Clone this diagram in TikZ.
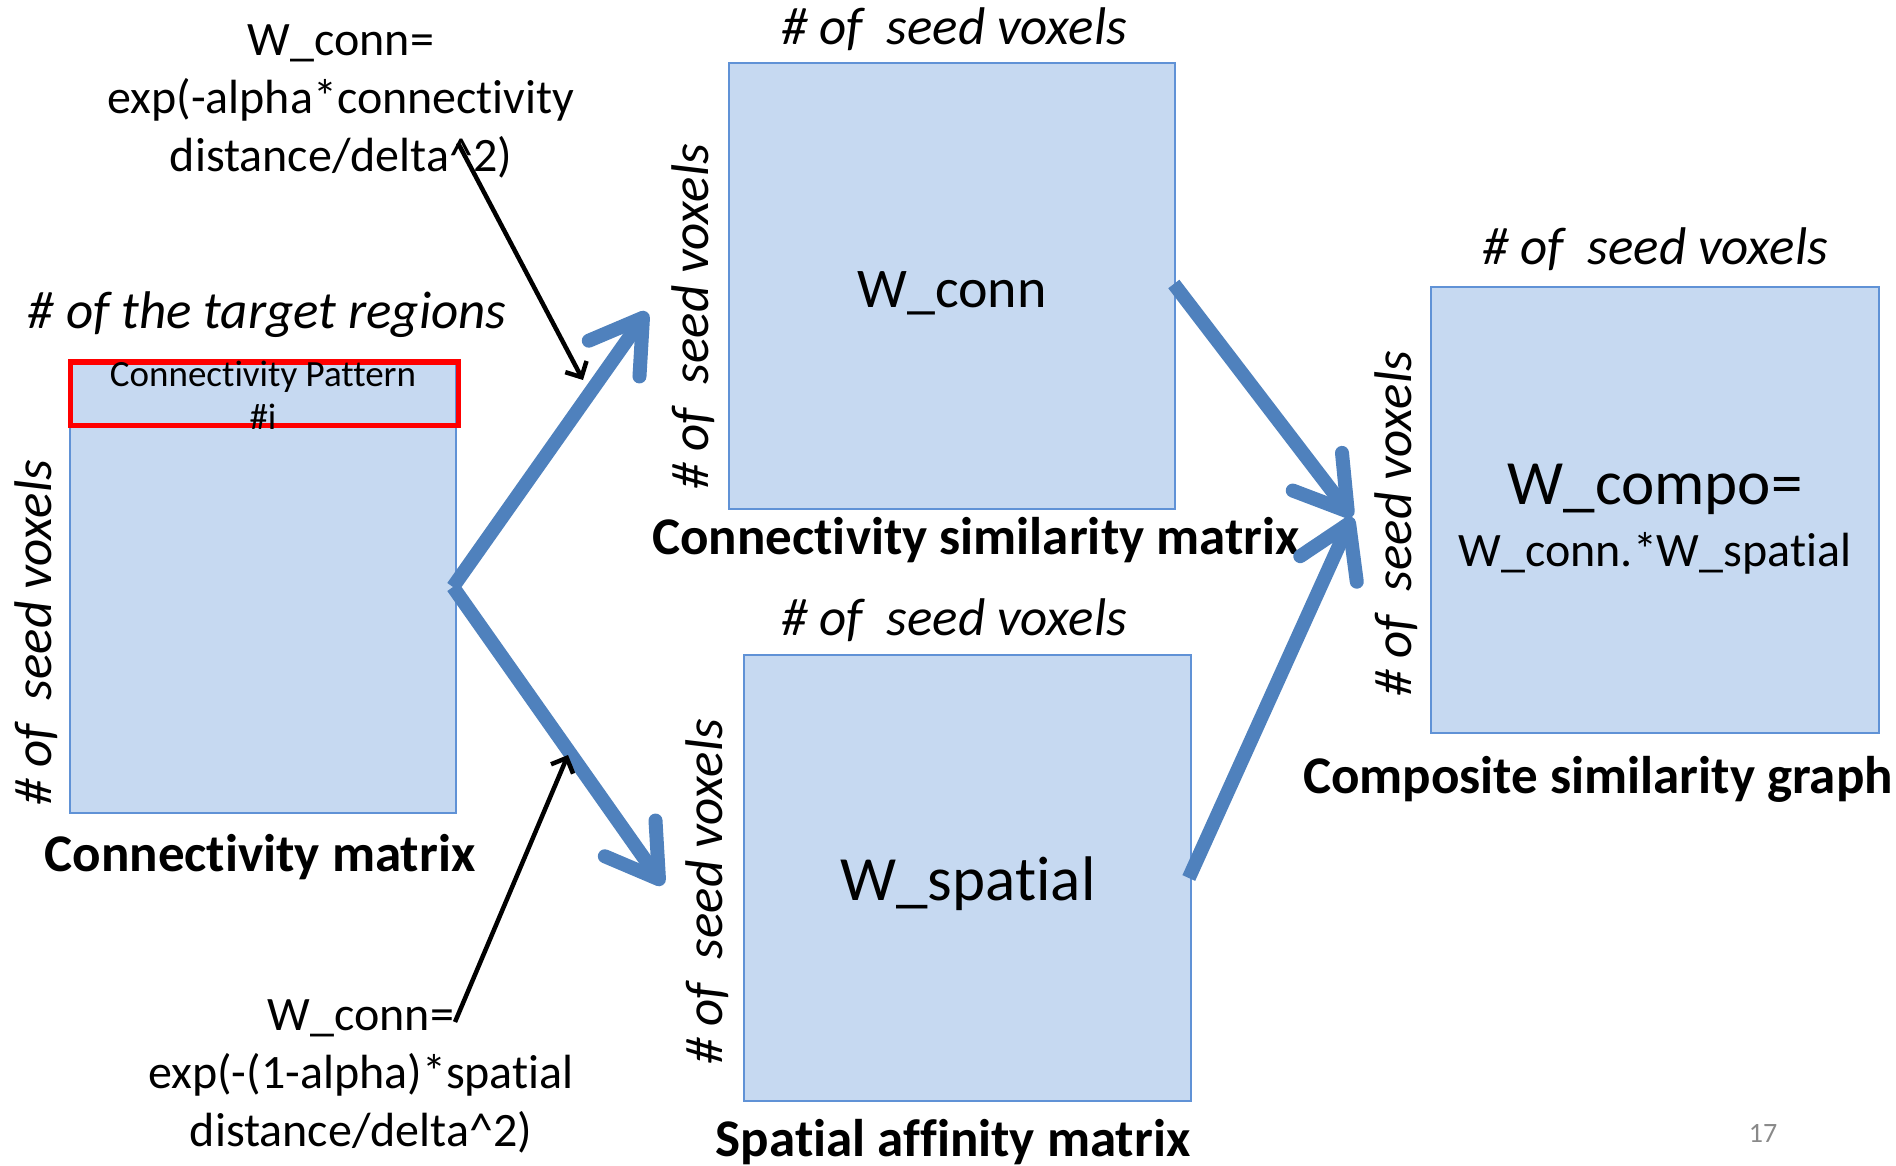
\documentclass[tikz,border=0pt]{standalone}
\usepackage{fontspec}
\setmainfont{Carlito}[Ligatures=NoCommon]
\usetikzlibrary{arrows.meta}
\definecolor{boxfill}{RGB}{198,217,241}
\definecolor{boxdraw}{RGB}{96,146,214}
\definecolor{flow}{RGB}{79,129,189}
\definecolor{pagenum}{RGB}{137,137,137}
\tikzset{
  mbox/.style={draw=boxdraw, fill=boxfill, line width=1.6pt, inner sep=0pt},
  flowarrow/.style={draw=flow, line width=14pt, -{Straight Barb[length=50pt, width=62pt, round]}},
  notearrow/.style={draw=black, line width=4.5pt, -{Straight Barb[length=12pt, width=24pt]}},
  hdr/.style={font=\fontsize{53}{60}\selectfont\itshape, inner sep=0pt},
  ttl/.style={font=\fontsize{53}{60}\selectfont\bfseries, inner sep=0pt},
  frm/.style={font=\fontsize{48}{58}\selectfont, align=center, inner sep=0pt},
}
\begin{document}
\begin{tikzpicture}[x=1pt,y=-1pt]
\useasboundingbox (0,0) rectangle (1896,1166);
% boxes
\node[mbox, minimum width=386pt, minimum height=450pt] (cm) at (263,588) {};
\node[draw=red, line width=5pt, minimum width=388pt, minimum height=63pt, inner sep=0pt] (red) at (264,393.5) {};
\node[font=\fontsize{37}{43}\selectfont, align=center, inner sep=0pt] (pat) at (263,395) {Connectivity Pattern\\\#i};
\node[mbox, minimum width=446pt, minimum height=446pt] (wc) at (952,286) {};
\node[mbox, minimum width=447pt, minimum height=446pt] (ws) at (967.5,878) {};
\node[mbox, minimum width=448pt, minimum height=446pt] (cp) at (1655,510) {};
% box texts
\node[font=\fontsize{56}{60}\selectfont, inner sep=0pt] (wct) at (952,293) {W\_conn};
\node[font=\fontsize{63}{68}\selectfont, inner sep=0pt] (wst) at (968,884) {W\_spatial};
\node[font=\fontsize{63}{68}\selectfont, inner sep=0pt] (cpt1) at (1655,489) {W\_compo=};
\node[font=\fontsize{48}{52}\selectfont, inner sep=0pt] (cpt2) at (1655,553) {W\_conn.*W\_spatial};
% header labels
\node[hdr] (h0) at (267,315) {\# of the target regions};
\node[hdr] (h1) at (954,29) {\# of\ \ seed voxels};
\node[hdr] (h2) at (954,620) {\# of\ \ seed voxels};
\node[hdr] (h3) at (1655,249) {\# of\ \ seed voxels};
\node[hdr, rotate=90] (v0) at (36,633) {\# of\ \ seed voxels};
\node[hdr, rotate=90] (v1) at (693,317) {\# of\ \ seed voxels};
\node[hdr, rotate=90] (v2) at (707,892) {\# of\ \ seed voxels};
\node[hdr, rotate=90] (v3) at (1396,524) {\# of\ \ seed voxels};
% titles
\node[ttl] (t0) at (260,857) {Connectivity matrix};
\node[ttl] (t1) at (976,540) {Connectivity similarity matrix};
\node[ttl] (t2) at (953,1142) {Spatial affinity matrix};
\node[ttl] (t3) at (1598,779) {Composite similarity graph};
% formulas
\node[frm] (f1) at (341,101) {W\_conn=\\exp(-alpha*connectivity\\distance/delta\textasciicircum 2)};
\node[frm] (f2) at (361,1076) {W\_conn=\\exp(-(1-alpha)*spatial\\distance/delta\textasciicircum 2)};
% page number
\node[font=\fontsize{28}{32}\selectfont, text=pagenum, inner sep=0pt] (pg) at (1763,1133) {17};
% connectors
\coordinate (split) at (453,587);
\coordinate (tipA) at (647,312);
\coordinate (tipB) at (663,885);
\coordinate (tipC) at (1352,517);
\draw[flowarrow] (split) -- (tipA);
\draw[flowarrow] (split) -- (tipB);
\draw[flowarrow] ([xshift=-2pt,yshift=2pt]wc.east) -- (tipC);
\draw[flowarrow] ([xshift=-3pt]ws.east) -- (tipC);
\coordinate (n1s) at (458,143);
\coordinate (n1e) at (583,380);
\coordinate (n2s) at (455,1022);
\coordinate (n2e) at (568,755);
\draw[notearrow] (n1s) -- (n1e);
\draw[notearrow] (n2s) -- (n2e);
\end{tikzpicture}
\end{document}
